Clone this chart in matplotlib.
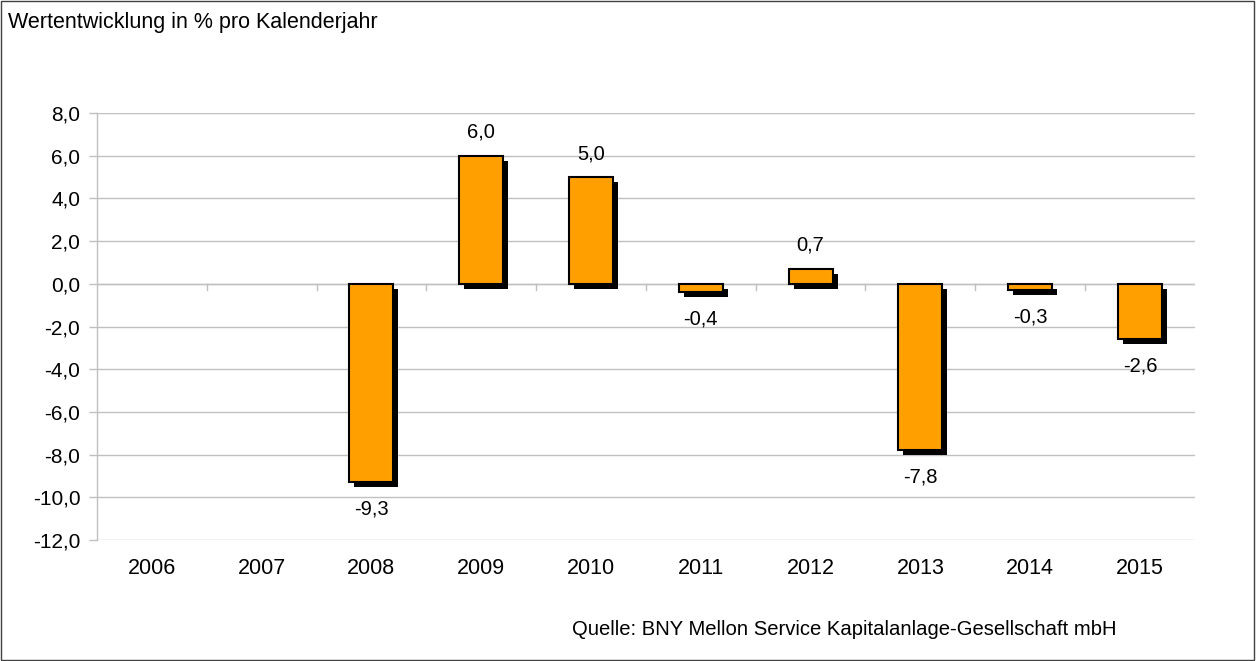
import matplotlib
matplotlib.use('Agg')
import matplotlib.pyplot as plt
import matplotlib.patheffects as pe
import numpy as np

plt.rcParams['font.family'] = ['Liberation Sans', 'DejaVu Sans']

years = ['2006', '2007', '2008', '2009', '2010', '2011', '2012', '2013', '2014', '2015']
values = [None, None, -9.3, 6.0, 5.0, -0.4, 0.7, -7.8, -0.3, -2.6]
yticks = [-12, -10, -8, -6, -4, -2, 0, 2, 4, 6, 8]

grid_col = '#c0c0c0'
bar_col = '#ffa000'

fig = plt.figure(figsize=(12.59, 6.61), dpi=100)
ax = fig.add_axes([0.077, 0.183, 0.872, 0.646])

x = np.arange(len(years))
for xi, v in zip(x, values):
    if v is None:
        continue
    ax.bar(xi, v, width=0.4, color=bar_col, edgecolor='black', linewidth=1.5, zorder=3,
           path_effects=[pe.SimplePatchShadow(offset=(3.6, -3.6), shadow_rgbFace='black', alpha=1.0),
                         pe.Normal()])
    lab = ('%.1f' % v).replace('.', ',')
    if v >= 0:
        ax.annotate(lab, (xi, v), xytext=(0, 10), textcoords='offset points',
                    ha='center', va='bottom', fontsize=14.5)
    else:
        ax.annotate(lab, (xi, v), xytext=(0, -12.5), textcoords='offset points',
                    ha='center', va='top', fontsize=14.5)

ax.set_xlim(-0.5, len(years) - 0.5)
ax.set_ylim(-12, 8)
ax.set_yticks(yticks)
ax.set_yticklabels([('%.1f' % t).replace('.', ',') for t in yticks], fontsize=15)
ax.set_xticks(x)
ax.set_xticklabels(years, fontsize=15.5)
ax.tick_params(axis='x', length=0, pad=13)
ax.tick_params(axis='y', length=6, color=grid_col, width=1, pad=6)

ax.grid(axis='y', color=grid_col, linewidth=1, zorder=0)
ax.set_axisbelow(True)
for s in ['top', 'right', 'bottom']:
    ax.spines[s].set_visible(False)
ax.spines['left'].set_color(grid_col)
ax.spines['left'].set_linewidth(1)

# category tick marks on zero line
for b in np.arange(0.5, len(years) - 0.5, 1.0):
    ax.plot([b, b], [0, -0.28], color=grid_col, linewidth=1, zorder=1)
ax.axhline(0, color=grid_col, linewidth=1, zorder=1)

fig.text(0.0064, 0.966, 'Wertentwicklung in % pro Kalenderjahr', fontsize=15.5, va='center', ha='left')
fig.text(0.887, 0.047, 'Quelle: BNY Mellon Service Kapitalanlage-Gesellschaft mbH',
         fontsize=14.6, va='center', ha='right')

border = plt.Rectangle((0.0008, 0.0015), 0.995, 0.997, transform=fig.transFigure,
                       fill=False, edgecolor='#404040', linewidth=1)
fig.patches.append(border)

fig.savefig('out.png', dpi=100)
